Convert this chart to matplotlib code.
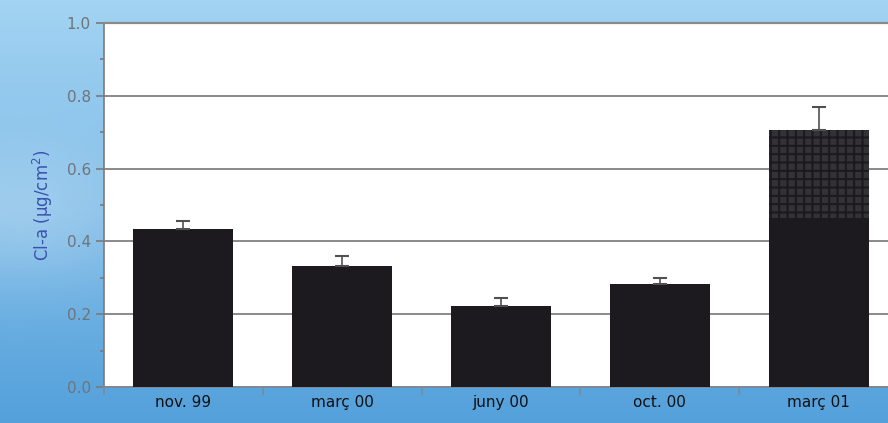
import numpy as np
import matplotlib
matplotlib.use("Agg")
import matplotlib.pyplot as plt

# Chlorophyll-a per sampling date
dates = ["nov. 99", "març 00", "juny 00", "oct. 00", "març 01"]
cla_base = [0.434, 0.332, 0.222, 0.283, 0.464]
cla_extra = [0.0, 0.0, 0.0, 0.0, 0.242]
cla_err = [0.023, 0.029, 0.023, 0.017, 0.063]

plt.rcParams["hatch.color"] = "#4f4e54"
plt.rcParams["hatch.linewidth"] = 1.5

fig = plt.figure(figsize=(8.88, 4.23), dpi=100)

# blue backdrop behind the plot
bg = fig.add_axes([0, 0, 1, 1], zorder=0)
yy, xx = np.mgrid[0:1:200j, 0:1:400j]
top = np.array([0.64, 0.83, 0.95])
bottom = np.array([0.33, 0.63, 0.86])
t = yy[..., None]
img = top * (1 - t) + bottom * t
haze = np.exp(-((xx - 0.02) ** 2 / 0.02 + (yy - 0.5) ** 2 / 0.03))[..., None]
img = img * (1 - 0.35 * haze) + 0.35 * haze * np.array([0.85, 0.92, 0.97])
bg.imshow(img, aspect="auto", extent=[0, 1, 0, 1], origin="upper")
bg.set_axis_off()

ax = fig.add_axes([104 / 888, 36 / 423, 794 / 888, 364 / 423], zorder=1)
ax.set_facecolor("white")

x = np.arange(len(dates))
total = np.array(cla_base) + np.array(cla_extra)
ax.bar(x, cla_base, width=0.63, color="#1c1a1e", zorder=3)
ax.bar(x, cla_extra, width=0.63, bottom=cla_base, color="#333236",
       edgecolor="#1c1a1e", hatch="++", linewidth=0, zorder=3)
ax.errorbar(x, total, yerr=[np.zeros(len(x)), cla_err], fmt="none",
            ecolor="#505050", elinewidth=1.2, capsize=5, capthick=1.5, zorder=4)

ax.set_xlim(-0.5, len(dates) - 0.5)
ax.set_ylim(0, 1.0)
ax.set_yticks(np.arange(0, 1.01, 0.2))
ax.set_yticks(np.arange(0.1, 1.0, 0.2), minor=True)
ax.set_yticklabels([f"{v:.1f}" for v in np.arange(0, 1.01, 0.2)])
ax.yaxis.grid(True, color="#8a8a8a", linewidth=1.4, zorder=0)
ax.set_axisbelow(True)

# boundary ticks between dates, labels centred under bars
ax.set_xticks(np.arange(-0.5, len(dates), 1.0))
ax.set_xticklabels([])
ax.set_xticks(x, minor=True)
ax.set_xticklabels(dates, minor=True, fontsize=11, color="#111111")
ax.tick_params(axis="x", which="major", length=6, color="#7a8a99", width=1.2)
ax.tick_params(axis="x", which="minor", length=0, pad=6)
ax.tick_params(axis="y", which="major", length=6, color="#7a7a7a", width=1.2,
               labelsize=11, labelcolor="#6f7479")
ax.tick_params(axis="y", which="minor", length=3, color="#7a7a7a", width=1.2)

ax.spines["right"].set_visible(False)
ax.spines["top"].set_color("#8a8a8a")
ax.spines["top"].set_linewidth(1.6)
ax.spines["left"].set_color("#7a7a7a")
ax.spines["left"].set_linewidth(1.2)
ax.spines["bottom"].set_color("#7a8a99")
ax.spines["bottom"].set_linewidth(1.4)

ax.set_ylabel("Cl-a (µg/cm$^2$)", color="#3a52b0", fontsize=12, labelpad=8)

fig.savefig("out.png", dpi=100)
